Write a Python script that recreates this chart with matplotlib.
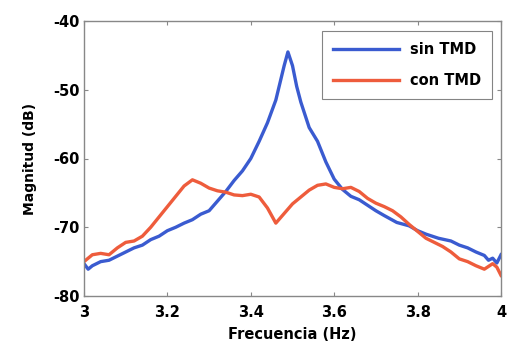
import matplotlib
matplotlib.use("Agg")
import matplotlib.pyplot as plt
import numpy as np

plt.rcParams["axes.unicode_minus"] = False

freq_sin = [3.00, 3.01, 3.02, 3.04, 3.06, 3.08, 3.10, 3.12, 3.14, 3.16, 3.18, 3.20, 3.22, 3.24, 3.26, 3.28,
            3.30, 3.32, 3.34, 3.36, 3.38, 3.40, 3.42, 3.44, 3.46, 3.47, 3.48, 3.489, 3.50, 3.51, 3.52, 3.54,
            3.56, 3.58, 3.60, 3.62, 3.64, 3.66, 3.68, 3.70, 3.72, 3.75, 3.78, 3.80, 3.82, 3.85, 3.88, 3.90,
            3.92, 3.94, 3.96, 3.97, 3.98, 3.99, 4.00]
mag_sin = [-75.3, -76.1, -75.6, -75.0, -74.8, -74.2, -73.6, -73.0, -72.6, -71.8, -71.3, -70.5, -70.0, -69.4, -68.9, -68.1,
           -67.6, -66.2, -64.8, -63.2, -61.8, -60.0, -57.5, -54.8, -51.5, -49.0, -46.5, -44.5, -46.5, -49.5, -51.8, -55.5,
           -57.5, -60.5, -63.0, -64.5, -65.5, -66.0, -66.8, -67.6, -68.3, -69.3, -69.8, -70.5, -71.0, -71.6, -72.0, -72.6,
           -73.0, -73.6, -74.1, -74.8, -74.5, -75.2, -74.0]

freq_con = [3.00, 3.02, 3.04, 3.06, 3.08, 3.10, 3.12, 3.14, 3.16, 3.18, 3.20, 3.22, 3.24, 3.26, 3.28, 3.30,
            3.32, 3.34, 3.36, 3.38, 3.40, 3.42, 3.44, 3.46, 3.48, 3.50, 3.52, 3.54, 3.56, 3.58, 3.60, 3.62,
            3.64, 3.66, 3.68, 3.70, 3.72, 3.74, 3.76, 3.78, 3.80, 3.82, 3.84, 3.86, 3.88, 3.90, 3.92, 3.94,
            3.96, 3.98, 3.99, 4.00]
mag_con = [-75.0, -74.0, -73.8, -74.0, -73.0, -72.2, -72.0, -71.3, -70.0, -68.5, -67.0, -65.5, -64.0, -63.1, -63.6, -64.3,
           -64.7, -64.9, -65.3, -65.4, -65.2, -65.6, -67.2, -69.4, -68.0, -66.6, -65.6, -64.6, -63.9, -63.7, -64.2, -64.4,
           -64.2, -64.8, -65.8, -66.5, -67.0, -67.6, -68.5, -69.6, -70.6, -71.6, -72.2, -72.8, -73.6, -74.6, -75.0, -75.6,
           -76.1, -75.3, -75.8, -77.0]

blue = "#3a5bd0"
red = "#ee5c3c"
FONT = "DejaVu Sans"

fig = plt.figure(figsize=(5.09, 3.43), dpi=100)
ax = fig.add_axes([84/509, 1-296/343, (501-84)/509, (296-21)/343])
ax.plot(freq_sin, mag_sin, color=blue, lw=2.4, label="sin TMD")
ax.plot(freq_con, mag_con, color=red, lw=2.4, label="con TMD")
ax.set_xlim(3, 4)
ax.set_ylim(-80, -40)
ax.set_xticks([3, 3.2, 3.4, 3.6, 3.8, 4])
ax.set_xticklabels(["3", "3.2", "3.4", "3.6", "3.8", "4"])
ax.set_yticks([-80, -70, -60, -50, -40])
ax.tick_params(direction="in", length=3, color="#888888", labelsize=10.5)
for lab in ax.get_xticklabels() + ax.get_yticklabels():
    lab.set_fontweight("bold")
    lab.set_family(FONT)
ax.tick_params(axis="x", pad=6.5)
ax.tick_params(axis="y", pad=3)
ax.yaxis.set_ticks_position("both")
ax.xaxis.set_ticks_position("both")
for s in ax.spines.values():
    s.set_color("#888888")
    s.set_linewidth(1.0)
ax.set_xlabel("Frecuencia (Hz)", fontsize=10.5, fontweight="bold", family=FONT, labelpad=5)
ax.set_ylabel("Magnitud (dB)", fontsize=10, fontweight="bold", family=FONT, labelpad=12)
leg = ax.legend(loc="upper right", bbox_to_anchor=(0.978, 0.962), prop={"family": FONT, "weight": "bold", "size": 10.5},
                fancybox=False, edgecolor="#666666", handlelength=4.5, handletextpad=0.75, borderpad=0.75,
                labelspacing=1.1, borderaxespad=0)
leg.get_frame().set_linewidth(0.8)
fig.savefig("out.png", dpi=100)
